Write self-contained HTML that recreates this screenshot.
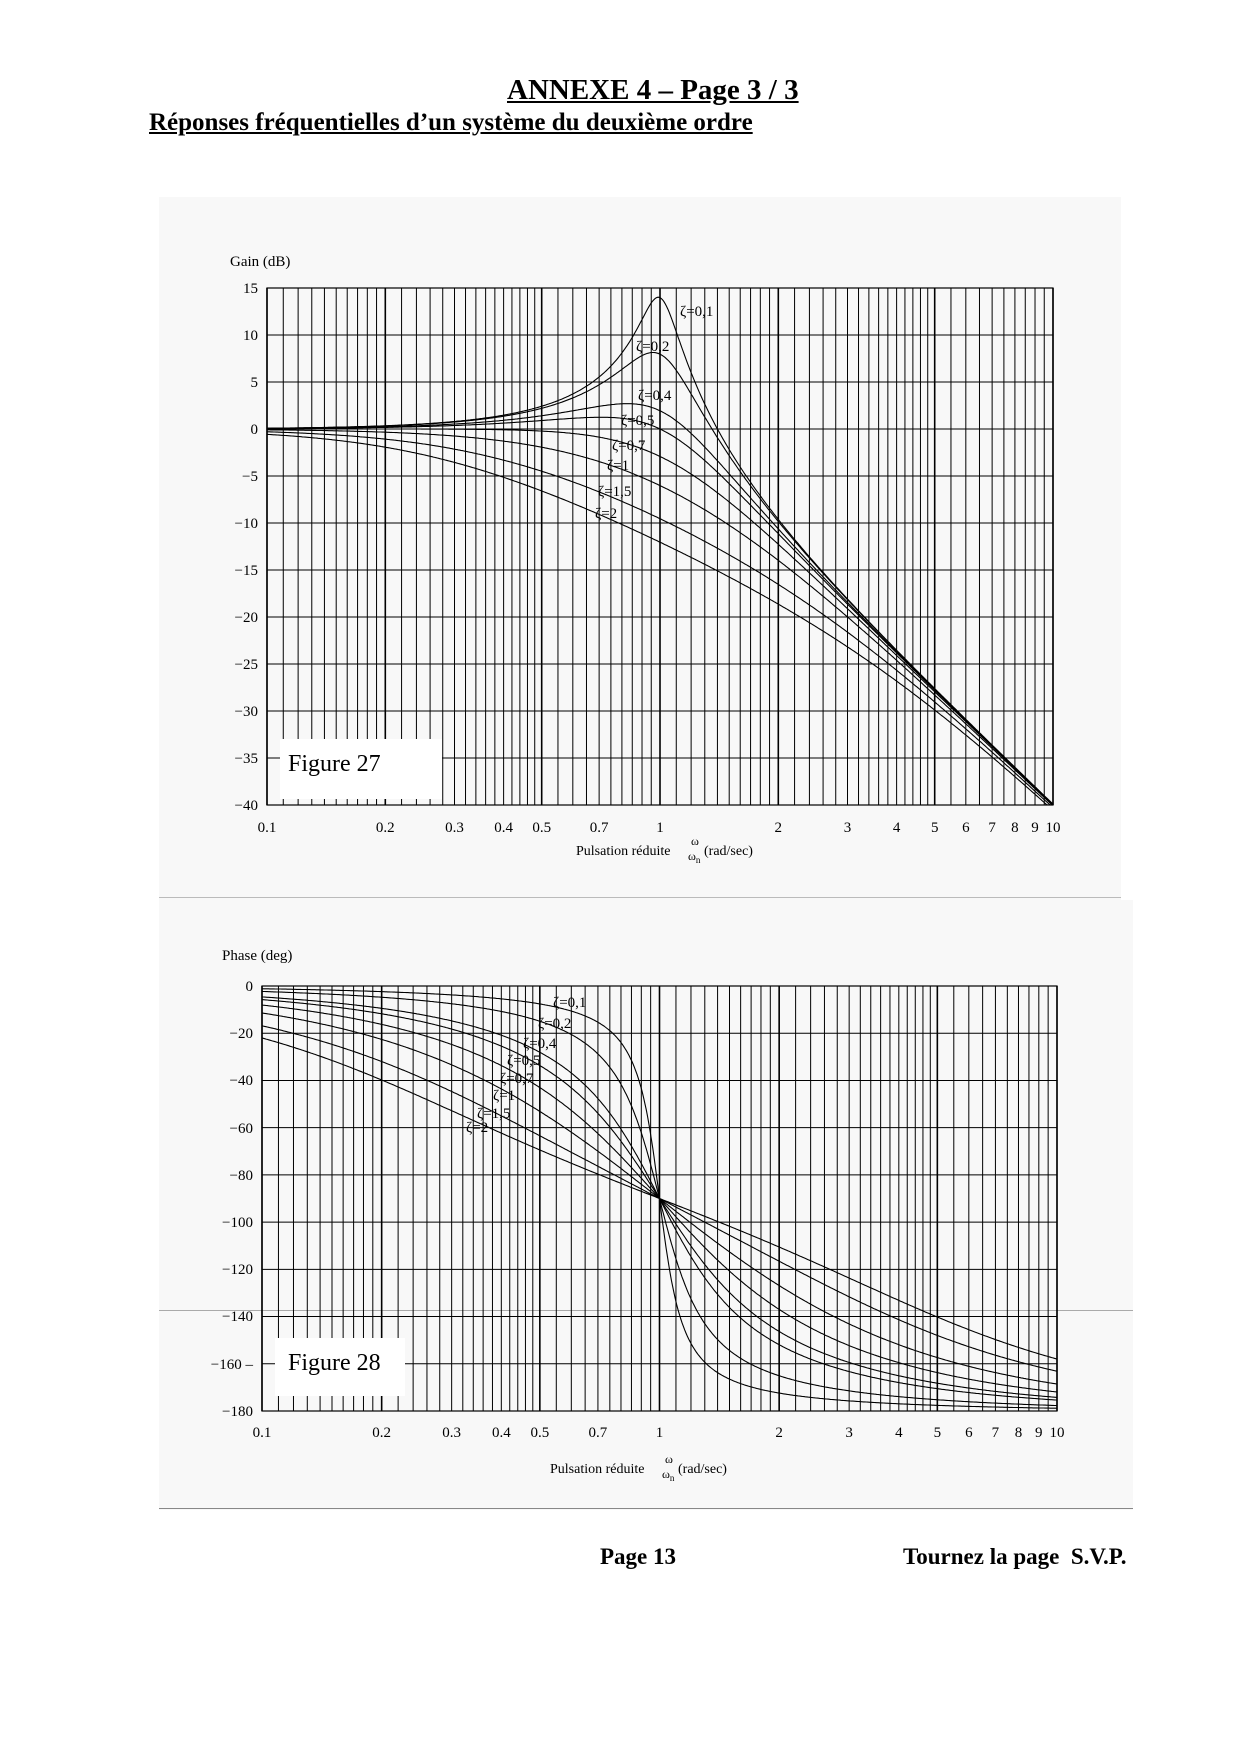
<!DOCTYPE html>
<html><head><meta charset="utf-8"><style>
html,body{margin:0;padding:0;background:#fff}
body{width:1240px;height:1754px;position:relative;overflow:hidden;font-family:"Liberation Serif",serif}
.t{position:absolute;white-space:nowrap}
</style></head><body>
<div style="position:absolute;left:159px;top:197px;width:962px;height:703px;background:#f8f8f8"></div>
<div style="position:absolute;left:159px;top:900px;width:974px;height:610px;background:#f8f8f8"></div>
<div class="t" style="left:507px;top:74px;font-size:29px;font-weight:bold;text-decoration:underline">ANNEXE 4 – Page 3 / 3</div>
<div class="t" style="left:149px;top:109px;font-size:25px;font-weight:bold;text-decoration:underline">Réponses fréquentielles d’un système du deuxième ordre</div>
<div style="position:absolute;left:159px;top:897px;width:962px;height:1px;background:#bbb"></div>
<div style="position:absolute;left:159px;top:1310px;width:974px;height:1px;background:#aaa"></div>
<div style="position:absolute;left:159px;top:1508px;width:974px;height:1px;background:#888"></div>
<div class="t" style="left:600px;top:1544px;font-size:23px;font-weight:bold">Page 13</div>
<div class="t" style="left:903px;top:1544px;font-size:23px;font-weight:bold">Tournez la page&nbsp; S.V.P.</div>
<svg id="s" width="1240" height="1754" style="position:absolute;left:0;top:0" font-family="Liberation Serif, serif">
<g id="g1"></g><g id="g2"></g>
<rect x="280" y="739" width="162" height="60" fill="#fff"/>
<text x="288" y="771" font-size="24">Figure 27</text>
<rect x="275" y="1338" width="130" height="58" fill="#fff"/>
<text x="288" y="1370" font-size="24">Figure 28</text>
<g font-size="15" text-anchor="end">
<text x="258" y="293">15</text><text x="258" y="340">10</text><text x="258" y="387">5</text><text x="258" y="434">0</text>
<text x="258" y="481">−5</text><text x="258" y="528">−10</text><text x="258" y="575">−15</text><text x="258" y="622">−20</text>
<text x="258" y="669">−25</text><text x="258" y="716">−30</text><text x="258" y="763">−35</text><text x="258" y="810">−40</text>
<text x="253" y="991">0</text><text x="253" y="1038">−20</text><text x="253" y="1085">−40</text><text x="253" y="1133">−60</text>
<text x="253" y="1180">−80</text><text x="253" y="1227">−100</text><text x="253" y="1274">−120</text><text x="253" y="1321">−140</text>
<text x="253" y="1369">−160 –</text><text x="253" y="1416">−180</text>
</g>
<text x="230" y="266" font-size="15">Gain (dB)</text>
<text x="222" y="960" font-size="15">Phase (deg)</text>
<g font-size="15" text-anchor="middle" id="xl1"></g>
<g font-size="15" text-anchor="middle" id="xl2"></g>
<text x="576" y="855" font-size="14">Pulsation réduite</text><text x="691" y="845" font-size="12">ω</text><text x="688" y="860" font-size="12">ω<tspan font-size="9" dy="3">n</tspan></text><text x="704" y="855" font-size="14">(rad/sec)</text>
<text x="550" y="1473" font-size="14">Pulsation réduite</text><text x="665" y="1463" font-size="12">ω</text><text x="662" y="1478" font-size="12">ω<tspan font-size="9" dy="3">n</tspan></text><text x="678" y="1473" font-size="14">(rad/sec)</text>
<g font-size="15">
<text x="680" y="316">ζ=0,1</text><text x="636" y="351">ζ=0,2</text><text x="638" y="400">ζ=0,4</text><text x="621" y="425">ζ=0,5</text>
<text x="612" y="450">ζ=0,7</text><text x="607" y="470">ζ=1</text><text x="598" y="496">ζ=1,5</text><text x="595" y="518">ζ=2</text>
<text x="553" y="1007">ζ=0,1</text><text x="538" y="1028">ζ=0,2</text><text x="523" y="1048">ζ=0,4</text><text x="507" y="1065">ζ=0,5</text>
<text x="500" y="1083">ζ=0,7</text><text x="493" y="1100">ζ=1</text><text x="477" y="1118">ζ=1,5</text><text x="466" y="1132">ζ=2</text>
</g>
</svg>
<script>
var NS="http://www.w3.org/2000/svg";
function el(p,n,a){var e=document.createElementNS(NS,n);for(var k in a)e.setAttribute(k,a[k]);p.appendChild(e);return e;}
var ticks=[];
[0.1,1].forEach(function(d){
 for(var v=1;v<2-1e-9;v+=0.1)ticks.push(v*d);
 for(var v=2;v<5-1e-9;v+=0.2)ticks.push(v*d);
 for(var v=5;v<10-1e-9;v+=0.5)ticks.push(v*d);
});ticks.push(10);
var Z=[0.1,0.2,0.4,0.5,0.7,1,1.5,2];
function plot(gid,xl,L,R,T,B,ymax,ymin,ystep,f,lab){
 var g=document.getElementById(gid);
 function X(u){return L+(Math.log10(u)+1)/2*(R-L);}
 function Y(v){return T+(ymax-v)/(ymax-ymin)*(B-T);}
 ticks.forEach(function(u){var x=X(u);var maj=Math.abs(u-Math.round(u*10)/10)<1e-9&&([0.1,0.2,0.5,1,2,5,10].indexOf(Math.round(u*10)/10)>=0);
  el(g,"line",{x1:x,x2:x,y1:T,y2:B,stroke:"#000","stroke-width":maj?1.6:1});});
 for(var v=ymax;v>=ymin-1e-9;v-=ystep){el(g,"line",{x1:L,x2:R,y1:Y(v),y2:Y(v),stroke:"#000","stroke-width":1});}
 el(g,"rect",{x:L,y:T,width:R-L,height:B-T,fill:"none",stroke:"#000","stroke-width":1.2});
 Z.forEach(function(z){var d="";for(var i=0;i<=600;i++){var u=Math.pow(10,-1+2*i/600);var v=f(u,z);v=Math.max(ymin,Math.min(ymax,v));d+=(i?"L":"M")+X(u).toFixed(1)+","+Y(v).toFixed(1);}
  el(g,"path",{d:d,fill:"none",stroke:"#000","stroke-width":1.1});});
 var xg=document.getElementById(xl);
 lab.forEach(function(u){var t=el(xg,"text",{x:X(u),y:lab.y});t.textContent=String(u);});
}
var lab=[0.1,0.2,0.3,0.4,0.5,0.7,1,2,3,4,5,6,7,8,9,10];
lab.y=832;
plot("g1","xl1",267,1053,288,805,15,-40,5,function(u,z){return -10*Math.log10(Math.pow(1-u*u,2)+Math.pow(2*z*u,2));},lab);
var lab2=lab.slice();lab2.y=1437;
plot("g2","xl2",262,1057,986,1411,0,-180,20,function(u,z){return -Math.atan2(2*z*u,1-u*u)*180/Math.PI;},lab2);
</script>
</body></html>
